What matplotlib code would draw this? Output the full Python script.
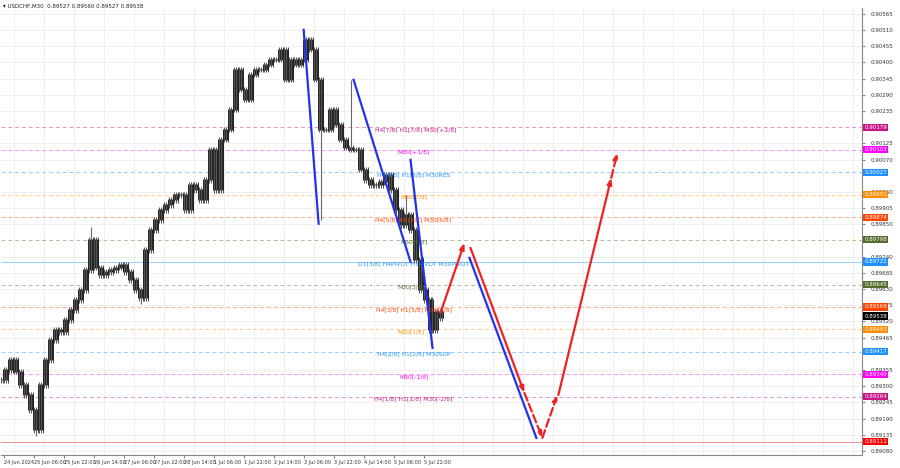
import matplotlib
matplotlib.use("Agg")
import matplotlib.pyplot as plt
from matplotlib.transforms import blended_transform_factory

# ---------------- data ----------------
bar_x = list(range(0, 445, 5))
closes = [0.89321,0.89355,0.89389,0.89349,0.89304,0.89270,0.89219,0.89151,0.89304,0.89389,
          0.89457,0.89491,0.89484,0.89525,0.89559,0.89593,0.89627,0.89695,0.89797,0.89702,
          0.89678,0.89688,0.89695,0.89702,0.89712,0.89688,0.89661,0.89627,0.89600,0.89763,
          0.89831,0.89865,0.89899,0.89916,0.89933,0.89950,0.89950,0.89899,0.89984,0.89967,
          0.89933,0.90001,0.90103,0.89967,0.90137,0.90171,0.90239,0.90375,0.90307,0.90273,
          0.90358,0.90375,0.90375,0.90392,0.90409,0.90409,0.90443,0.90341,0.90409,0.90392,
          0.90409,0.90477,0.90443,0.90341,0.90171,0.90171,0.90239,0.90188,0.90137,0.90110,
          0.90103,0.90103,0.90035,0.90001,0.89984,0.89984,0.89994,0.90018,0.89967,0.89899,
          0.89848,0.89882,0.89831,0.89729,0.89627,0.89593,0.89491,0.89552,0.89532]
spike_x = [35, 90, 140, 320, 350, 405, 430]
spike_p = [0.89130, 0.89840, 0.89580, 0.89866, 0.90341, 0.89950, 0.89440]

level_p = [0.90179, 0.90103, 0.90027, 0.89951, 0.89874, 0.89798, 0.89722, 0.89645,
           0.89569, 0.89493, 0.89417, 0.89340, 0.89264, 0.89111]
level_lbl = ["H4[7/8] H1[7/8] M30[+2/8]", "M30[+1/8]", "H4[6/8] H1[6/8] M30RES", "M30[7/8]",
             "H4[5/8] H1[5/8] M30[6/8]", "M30[5/8]", "D1[3/8] H4PIVOT H1PIVOT M30PIVOT",
             "M30[3/8]", "H4[3/8] H1[3/8] M30[2/8]", "M30[1/8]", "H4[2/8] H1[2/8] M30SUP",
             "M30[-1/8]", "H4[1/8] H1[1/8] M30[-2/8]", ""]
level_col = ["#c71585", "#ff00ff", "#1e90ff", "#ff8c00", "#ff4500", "#556b2f", "#1e90ff",
             "#556b2f", "#ff4500", "#ff8c00", "#1e90ff", "#ff00ff", "#c71585", "#ff0000"]
level_ls = ["--", "--", "--", "--", "--", "--", "-", "--", "--", "--", "--", "--", "--", "-"]
level_lx = [415, 413, 413, 413, 413, 413, 413, 410, 413, 410, 413, 413, 413, 0]

price_ticks = [0.90565, 0.90510, 0.90455, 0.90400, 0.90345, 0.90290, 0.90235, 0.90125, 0.90070,
               0.89960, 0.89905, 0.89850, 0.89740, 0.89685, 0.89630, 0.89575, 0.89520, 0.89465,
               0.89355, 0.89300, 0.89245, 0.89190, 0.89135, 0.89080]
date_x = [3, 33, 63, 93, 123, 153, 183, 213, 243, 273, 303, 333, 363, 393, 423]
date_lbl = ["24 Jun 2024", "25 Jun 06:00", "25 Jun 22:00", "26 Jun 14:00", "27 Jun 06:00",
            "27 Jun 22:00", "28 Jun 14:00", "1 Jul 06:00", "1 Jul 22:00", "2 Jul 14:00",
            "3 Jul 06:00", "3 Jul 22:00", "4 Jul 14:00", "5 Jul 06:00", "5 Jul 22:00"]

blue_lines = [((303, 0.90511), (318, 0.89852)), ((353, 0.90341), (410, 0.89722)),
              ((410, 0.90069), (432, 0.89430)), ((469, 0.89736), (536, 0.89124))]
red_solid = [((440, 0.89549), (464, 0.89787)), ((470, 0.89770), (524, 0.89277)),
             ((558, 0.89270), (611, 0.90008))]
red_dashed = [((524, 0.89277), (542, 0.89124)), ((542, 0.89124), (557, 0.89270)),
              ((611, 0.90008), (617, 0.90093))]
cur_price = 0.89538

# ---------------- plot ----------------
W, H = 900, 468
fig = plt.figure(figsize=(9, 4.68), dpi=100)
ax = fig.add_axes([1/W, 13/H, 861/W, 447/H])
ax.set_xlim(0, 862)
ax.set_ylim(0.89066, 0.90585)
for s in ["top", "left"]:
    ax.spines[s].set_visible(False)
ax.spines["right"].set_color("#888888")
ax.spines["bottom"].set_color("#888888")

for x in range(13, 862, 30):
    ax.axvline(x, color="#ececec", lw=0.6, zorder=0)
for p in price_ticks:
    ax.axhline(p, color="#ececec", lw=0.6, zorder=0)

# candles
prev = closes[0]
for x, c in zip(bar_x, closes):
    o = prev
    hi, lo = max(o, c) + 0.00009, min(o, c) - 0.00009
    ax.vlines([x - 2, x, x + 2], lo, hi, color="#333333", lw=0.6, zorder=2)
    ax.vlines([x - 2.5, x - 1, x + 1, x + 2.5], min(o, c), max(o, c) + 0.00003,
              color="#222222", lw=0.7, zorder=2)
    prev = c
for x, p in zip(spike_x, spike_p):
    c = closes[bar_x.index(x)]
    ax.vlines(x, min(p, c), max(p, c), color="#666666", lw=0.8, zorder=2)

tr = blended_transform_factory(ax.transAxes, ax.transData)
for p, lbl, col, ls, lx in zip(level_p, level_lbl, level_col, level_ls, level_lx):
    if ls == "--":
        ax.axhline(p, color=col, lw=0.7, ls=(0, (4, 3)), alpha=0.45, zorder=1)
    else:
        ax.axhline(p, color=col, lw=0.7, alpha=0.45, zorder=1)
    if lbl:
        ax.text(lx, p - 0.00008, lbl, color=col, fontsize=4.3, ha="center", va="center", zorder=3)
    ax.text(1.003, p, f"{p:.5f}", transform=tr, fontsize=4.0, color="white", va="center", ha="left",
            bbox=dict(boxstyle="square,pad=0.2", fc=col, ec="none"), clip_on=False, zorder=5)
ax.text(1.003, cur_price, f"{cur_price:.5f}", transform=tr, fontsize=4.0, color="white", va="center",
        ha="left", bbox=dict(boxstyle="square,pad=0.2", fc="black", ec="none"), clip_on=False, zorder=6)

for (a, b) in blue_lines:
    ax.plot([a[0], b[0]], [a[1], b[1]], color="#2233ee", lw=1.6, zorder=4)
for (a, b) in red_solid:
    ax.annotate("", xy=b, xytext=a, arrowprops=dict(arrowstyle="-|>,head_length=0.35,head_width=0.13",
                color="#ee2222", lw=1.6, shrinkA=0, shrinkB=0), zorder=4)
for (a, b) in red_dashed:
    ax.annotate("", xy=b, xytext=a, arrowprops=dict(arrowstyle="-|>,head_length=0.35,head_width=0.13",
                color="#ee2222", lw=1.6, ls="--", shrinkA=0, shrinkB=0), zorder=4)

ax.yaxis.tick_right()
ax.set_yticks(price_ticks)
ax.set_yticklabels([f"{p:.5f}" for p in price_ticks], fontsize=4.0, color="#333333")
ax.tick_params(axis="y", length=2, pad=4, colors="#888888", labelcolor="#333333")
ax.set_xticks(date_x)
ax.set_xticklabels(date_lbl, fontsize=3.6, color="#333333", ha="left")
ax.tick_params(axis="x", length=2, pad=1.5, colors="#888888", labelcolor="#333333")

fig.text(3/W, 1 - 6/H, "\u25BE USDCHF,M30  0.89527 0.89560 0.89527 0.89538", fontsize=4.0,
         color="#222222", va="center")
fig.savefig("out.png", dpi=100, facecolor="white")
